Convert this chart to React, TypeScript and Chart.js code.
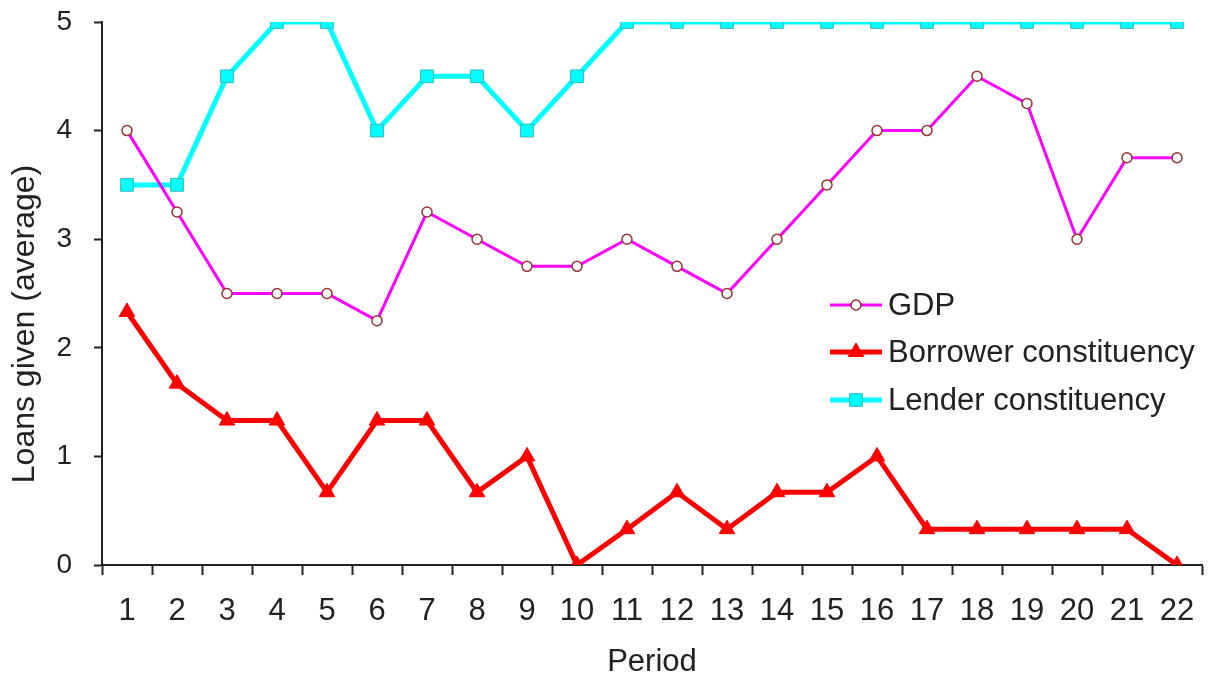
import React, { useEffect, useRef } from "react";
import { Chart, registerables } from "chart.js";

Chart.register(...registerables);

const periods = ["1","2","3","4","5","6","7","8","9","10","11","12","13","14","15","16","17","18","19","20","21","22"];
const gdp = [4, 3.25, 2.5, 2.5, 2.5, 2.25, 3.25, 3, 2.75, 2.75, 3, 2.75, 2.5, 3, 3.5, 4, 4, 4.5, 4.25, 3, 3.75, 3.75];
const borrower = [2.33, 1.67, 1.33, 1.33, 0.67, 1.33, 1.33, 0.67, 1, 0, 0.33, 0.67, 0.33, 0.67, 0.67, 1, 0.33, 0.33, 0.33, 0.33, 0.33, 0];
const lender = [3.5, 3.5, 4.5, 5, 5, 4, 4.5, 4.5, 4, 4.5, 5, 5, 5, 5, 5, 5, 5, 5, 5, 5, 5, 5];

const yTitle = "Loans given (average)";
const xTitle = "Period";

const FONT = "Arial, 'Liberation Sans', sans-serif";
const INK = "#222222";

function drawMarker(ctx: CanvasRenderingContext2D, style: string, x: number, y: number, r: number) {
  ctx.beginPath();
  if (style === "circle") {
    ctx.arc(x, y, r, 0, Math.PI * 2);
  } else if (style === "triangle") {
    ctx.moveTo(x, y - r);
    ctx.lineTo(x + r * 0.866, y + r * 0.5);
    ctx.lineTo(x - r * 0.866, y + r * 0.5);
    ctx.closePath();
  } else {
    const s = r * Math.SQRT1_2;
    ctx.rect(x - s, y - s, 2 * s, 2 * s);
  }
  ctx.fill();
  ctx.stroke();
}

// Legend inside the plot (line + marker + label) and the rotated y-axis title.
const annotations = {
  id: "annotations",
  afterDraw(chart: Chart) {
    const ctx = chart.ctx;
    const x0 = 830;
    const x1 = 882;
    const rows = [305, 352, 400];
    ctx.save();
    chart.data.datasets.forEach((ds: any, i: number) => {
      const y = rows[i];
      ctx.strokeStyle = ds.borderColor;
      ctx.lineWidth = ds.borderWidth;
      ctx.beginPath();
      ctx.moveTo(x0, y);
      ctx.lineTo(x1, y);
      ctx.stroke();
      ctx.fillStyle = ds.pointBackgroundColor;
      ctx.strokeStyle = ds.pointBorderColor;
      ctx.lineWidth = ds.pointBorderWidth;
      drawMarker(ctx, ds.pointStyle, (x0 + x1) / 2, y, ds.pointRadius);
      ctx.fillStyle = INK;
      ctx.font = `31px ${FONT}`;
      ctx.textBaseline = "middle";
      ctx.textAlign = "left";
      ctx.fillText(ds.label, 888, y + 1);
    });

    ctx.translate(25, 324);
    ctx.rotate(-Math.PI / 2);
    ctx.fillStyle = INK;
    ctx.font = `32px ${FONT}`;
    ctx.textAlign = "center";
    ctx.textBaseline = "middle";
    ctx.fillText(yTitle, 0, 0);
    ctx.restore();
  },
};

export default function App() {
  const canvasRef = useRef<HTMLCanvasElement | null>(null);

  useEffect(() => {
    document.body.style.margin = "0";
    const canvas = canvasRef.current;
    if (!canvas) return;
    const chart = new Chart(canvas, {
      type: "line",
      data: {
        labels: periods,
        datasets: [
          {
            label: "GDP",
            data: gdp,
            borderColor: "#FF00FF",
            borderWidth: 3,
            pointStyle: "circle",
            pointRadius: 5,
            pointBackgroundColor: "#FFFFFF",
            pointBorderColor: "#993333",
            pointBorderWidth: 1.5,
            tension: 0,
          },
          {
            label: "Borrower constituency",
            data: borrower,
            borderColor: "#FF0000",
            borderWidth: 5,
            pointStyle: "triangle",
            pointRadius: 9,
            pointBackgroundColor: "#FF0000",
            pointBorderColor: "#FF0000",
            pointBorderWidth: 1,
            tension: 0,
          },
          {
            label: "Lender constituency",
            data: lender,
            borderColor: "#00FFFF",
            borderWidth: 5,
            pointStyle: "rect",
            pointRadius: 9,
            pointBackgroundColor: "#00FFFF",
            pointBorderColor: "#33BBBB",
            pointBorderWidth: 1,
            tension: 0,
          },
        ],
      },
      options: {
        animation: false,
        responsive: false,
        events: [],
        layout: { padding: { top: 22, right: 7, left: 0, bottom: 0 } },
        plugins: {
          legend: { display: false },
          tooltip: { enabled: false },
        },
        scales: {
          x: {
            type: "category",
            offset: true,
            border: { color: INK, width: 2 },
            grid: {
              offset: true,
              drawOnChartArea: false,
              drawTicks: true,
              tickLength: 10,
              tickColor: INK,
              tickWidth: 2,
            },
            ticks: {
              color: INK,
              font: { family: FONT, size: 31 },
              padding: 18,
              maxRotation: 0,
              autoSkip: false,
            },
            title: {
              display: true,
              text: xTitle,
              color: INK,
              font: { family: FONT, size: 31 },
              padding: { top: 0, bottom: 0 },
            },
            afterFit: (s: any) => {
              s.height = 116;
              s.paddingLeft = 0;
              s.paddingRight = 0;
            },
          },
          y: {
            min: 0,
            max: 5,
            border: { color: INK, width: 2 },
            grid: {
              drawOnChartArea: false,
              drawTicks: true,
              tickLength: 8,
              tickColor: INK,
              tickWidth: 2,
            },
            ticks: {
              stepSize: 1,
              color: INK,
              font: { family: FONT, size: 28 },
              padding: 22,
            },
            afterFit: (s: any) => {
              s.width = 102;
              s.paddingTop = 0;
              s.paddingBottom = 0;
            },
          },
        },
      },
      plugins: [annotations],
    });
    return () => chart.destroy();
  }, []);

  return (
    <div style={{ width: 1212, height: 681, background: "#FFFFFF" }}>
      <canvas ref={canvasRef} width={1212} height={681} style={{ display: "block" }} />
    </div>
  );
}
